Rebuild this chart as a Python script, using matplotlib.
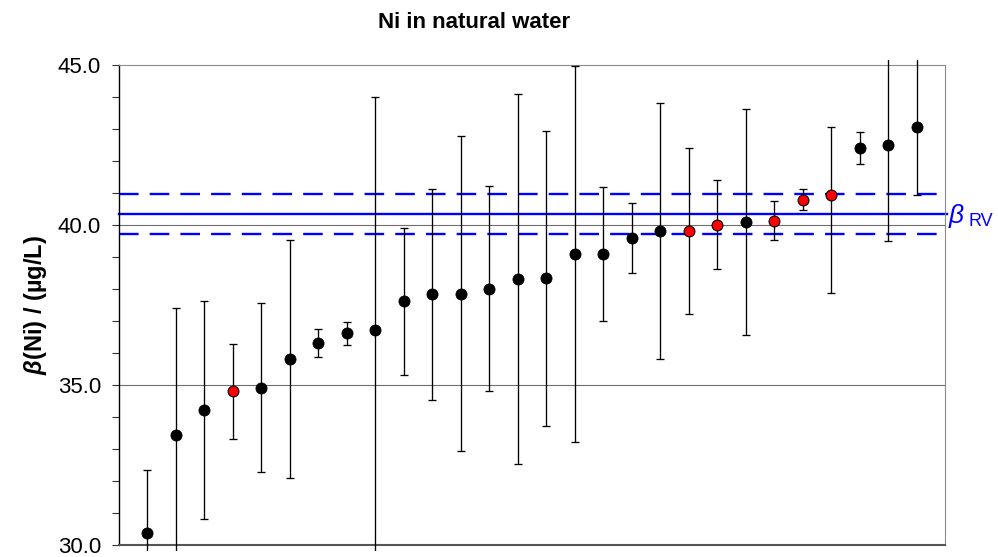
import matplotlib
matplotlib.use("Agg")
import matplotlib.pyplot as plt
import numpy as np
from matplotlib.patches import Rectangle
from matplotlib.ticker import MultipleLocator, FormatStrFormatter

plt.rcParams['font.family'] = ['Liberation Sans', 'DejaVu Sans']
plt.rcParams['mathtext.fontset'] = 'custom'
plt.rcParams['mathtext.rm'] = 'Liberation Sans:bold'
plt.rcParams['mathtext.it'] = 'Liberation Sans:bold:italic'
plt.rcParams['mathtext.bf'] = 'Liberation Sans:bold'

# Data: lab index, measured value, lower / upper uncertainty
lab = list(range(1, 29))
values = [30.36, 33.43, 34.21, 34.80, 34.92, 35.80, 36.31, 36.61, 36.71, 37.61,
          37.84, 37.85, 38.01, 38.31, 38.33, 39.10, 39.10, 39.60, 39.81, 39.81,
          40.01, 40.10, 40.14, 40.79, 40.93, 42.40, 42.49, 43.07]
uncert_low = [1.99, 3.99, 3.40, 1.49, 2.64, 3.72, 0.45, 0.37, 7.29, 2.31,
              3.30, 4.92, 3.20, 5.79, 4.62, 5.88, 2.10, 1.10, 4.00, 2.60,
              1.40, 3.53, 0.60, 0.32, 3.04, 0.50, 2.99, 2.14]
uncert_high = [1.99, 3.99, 3.40, 1.49, 2.64, 3.72, 0.45, 0.37, 7.29, 2.31,
               3.30, 4.92, 3.20, 5.79, 4.62, 5.88, 2.10, 1.10, 4.00, 2.60,
               1.40, 3.53, 0.60, 0.32, 2.13, 0.50, 2.99, 2.14]
highlight = [False, False, False, True, False, False, False, False, False, False,
             False, False, False, False, False, False, False, False, False, True,
             True, False, True, True, True, False, False, False]

ref_value = 40.33
ref_upper = 40.96
ref_lower = 39.71

yticks = [30.0, 35.0, 40.0, 45.0]

fig = plt.figure(figsize=(9.98, 5.57), dpi=100)
ax = fig.add_axes([119/998, 12/557, 826/998, 480/557])

ax.set_xlim(0, 29)
ax.set_ylim(30, 45)

# gridlines
for yv in yticks[1:3]:
    ax.axhline(yv, color='#6e6e6e', lw=0.8, zorder=1)

# reference lines
ax.axhline(ref_value, xmin=0, xmax=1.0025, color='#0000ff', lw=1.7, zorder=2, clip_on=False)
ax.axhline(ref_upper, xmin=0, xmax=0.990, color='#0000ff', lw=1.7, ls=(0, (8.3, 4.7)), zorder=2)
ax.axhline(ref_lower, xmin=0, xmax=0.990, color='#0000ff', lw=1.7, ls=(0, (8.3, 4.7)), zorder=2)

# error bars
clip_rect = Rectangle((0, -0.0125), 1, 1.0230, transform=ax.transAxes, visible=False)
ax.add_patch(clip_rect)
eb = ax.errorbar(lab, values, yerr=[uncert_low, uncert_high], fmt='none', ecolor='black',
                 elinewidth=0.95, capsize=3, capthick=0.95, zorder=3)
for c in eb[1]:
    c.set_clip_path(clip_rect)
for c in eb[2]:
    c.set_clip_path(clip_rect)

xs = np.array(lab)
vs = np.array(values)
hl = np.array(highlight)
ax.plot(xs[~hl], vs[~hl], 'o', ms=8, mfc='black', mec='black', mew=0.6, zorder=4, clip_on=False)
ax.plot(xs[hl], vs[hl], 'o', ms=7.8, mfc='#ff0000', mec='black', mew=0.8, zorder=4, clip_on=False)

# spines
ax.spines['top'].set_color('#8c8c8c')
ax.spines['right'].set_color('#8c8c8c')
ax.spines['left'].set_color('black')
ax.spines['bottom'].set_color('#555555')
ax.spines['bottom'].set_linewidth(1.5)
ax.spines['left'].set_linewidth(1.0)

ax.set_xticks([])
ax.set_yticks(yticks)
ax.yaxis.set_major_formatter(FormatStrFormatter('%.1f'))
ax.yaxis.set_minor_locator(MultipleLocator(1))
ax.tick_params(axis='y', which='both', direction='out', length=5, width=0.8, color='#333333',
               labelsize=16, pad=8)

ax.set_ylabel(r'$\beta$(Ni) / (µg/L)', fontsize=17, fontweight='bold', labelpad=6)
fig.text(474.5/998, 1 - 22/557, 'Ni in natural water', ha='center', va='center',
         fontsize=16, fontweight='bold')

fig.text(949/998, 1 - 216/557, 'β', color='#0000ff', fontsize=19, fontstyle='italic',
         ha='left', va='center')
fig.text(969/998, 1 - 221/557, 'RV', color='#0000ff', fontsize=13, ha='left', va='center')

fig.savefig('out.png', dpi=100)
